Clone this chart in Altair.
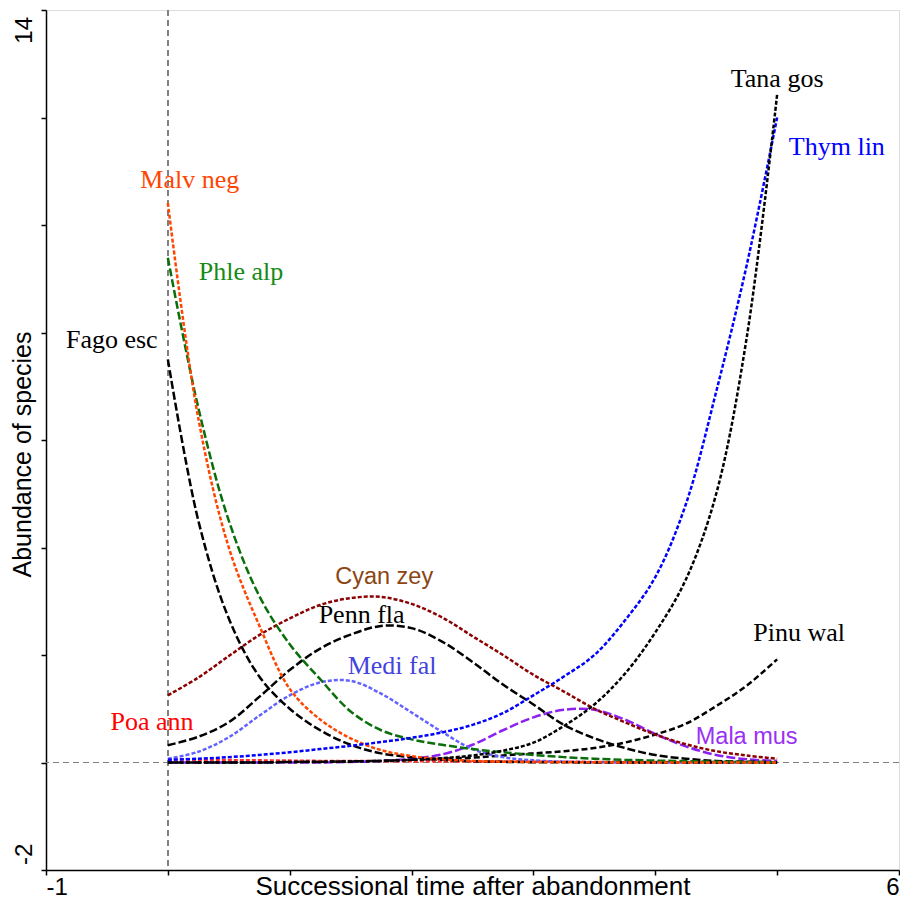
import altair as alt
import pandas as pd

# ---------------- data ----------------
xs = [0.0, 0.25, 0.5, 0.75, 1.0, 1.25, 1.5, 1.75, 2.0, 2.25, 2.5,
      2.75, 3.0, 3.25, 3.5, 3.75, 4.0, 4.25, 4.5, 4.75, 5.0]

malv_neg = [10.41, 6.4, 4.0, 2.55, 1.37, 0.8, 0.45, 0.23, 0.12, 0.06, 0.03,
            0.015, 0.01, 0.005, 0.003, 0.002, 0.001, 0.0, 0.0, 0.0, 0.0]
phle_alp = [9.39, 6.6, 4.5, 3.1, 2.2, 1.55, 0.95, 0.6, 0.43, 0.33, 0.25,
            0.19, 0.14, 0.1, 0.07, 0.05, 0.035, 0.025, 0.015, 0.01, 0.005]
fago_esc = [7.5, 4.5, 2.68, 1.6, 1.0, 0.6, 0.33, 0.17, 0.1, 0.05, 0.025,
            0.012, 0.006, 0.003, 0.001, 0.0, 0.0, 0.0, 0.0, 0.0, 0.0]
cyan_zey = [1.25, 1.58, 1.98, 2.37, 2.68, 2.93, 3.06, 3.08, 2.95, 2.7, 2.35,
            2.0, 1.63, 1.32, 1.0, 0.75, 0.52, 0.34, 0.21, 0.13, 0.07]
penn_fla = [0.32, 0.48, 0.75, 1.22, 1.72, 2.12, 2.38, 2.54, 2.5, 2.25, 1.87,
            1.45, 1.08, 0.7, 0.45, 0.27, 0.14, 0.07, 0.03, 0.015, 0.005]
medi_fal = [0.07, 0.2, 0.47, 0.87, 1.25, 1.49, 1.52, 1.28, 0.93, 0.57, 0.25,
            0.1, 0.04, 0.015, 0.005, 0.0, 0.0, 0.0, 0.0, 0.0, 0.0]
thym_lin = [0.05, 0.07, 0.1, 0.14, 0.19, 0.25, 0.31, 0.38, 0.46, 0.56, 0.7,
            0.92, 1.25, 1.6, 2.0, 2.64, 3.45, 4.8, 6.9, 9.25, 12.0]
tana_gos = [0.0, 0.0, 0.0, 0.0, 0.01, 0.01, 0.02, 0.03, 0.05, 0.08, 0.13,
            0.22, 0.37, 0.68, 1.08, 1.65, 2.42, 3.4, 5.0, 7.9, 12.43]
pinu_wal = [0.0, 0.0, 0.0, 0.0, 0.01, 0.015, 0.02, 0.03, 0.05, 0.07, 0.09,
            0.13, 0.17, 0.21, 0.27, 0.37, 0.52, 0.72, 1.05, 1.43, 1.92]
mala_mus = [0.0, 0.0, 0.0, 0.0, 0.0, 0.0, 0.01, 0.03, 0.07, 0.15, 0.33,
            0.6, 0.84, 0.98, 0.98, 0.8, 0.53, 0.3, 0.14, 0.06, 0.03]
poa_ann = [0.06, 0.05, 0.045, 0.04, 0.035, 0.03, 0.03, 0.025, 0.025, 0.02, 0.02,
           0.02, 0.015, 0.015, 0.01, 0.01, 0.01, 0.005, 0.005, 0.005, 0.0]

species_names = ["Poa ann", "Mala mus", "Pinu wal", "Medi fal", "Cyan zey",
                 "Penn fla", "Fago esc", "Phle alp", "Malv neg", "Thym lin", "Tana gos"]
species_series = [poa_ann, mala_mus, pinu_wal, medi_fal, cyan_zey,
                  penn_fla, fago_esc, phle_alp, malv_neg, thym_lin, tana_gos]

label_names = ["Tana gos", "Thym lin", "Malv neg", "Phle alp", "Fago esc", "Cyan zey",
               "Penn fla", "Medi fal", "Poa ann", "Mala mus", "Pinu wal"]
label_x = [5.0, 5.49, 0.18, 0.60, -0.46, 1.775, 1.59, 1.84, -0.13, 4.75, 5.18]
label_y = [12.56, 11.3, 10.69, 8.97, 7.72, 3.32, 2.6, 1.65, 0.6, 0.35, 2.26]

x_ticks = [-1, 0, 1, 2, 3, 4, 5, 6]
y_ticks = [-2, 0, 2, 4, 6, 8, 10, 12, 14]
y_tick_labels = ["-2", "14"]
y_tick_label_values = [-2, 14]

# ---------------- styles ----------------
line_style = {
    "Malv neg": ("#FF4500", [4, 2]),
    "Phle alp": ("#0A6E0A", [8, 3]),
    "Fago esc": ("#000000", [8, 3]),
    "Cyan zey": ("#8B0000", [4, 2]),
    "Penn fla": ("#000000", [8, 3]),
    "Medi fal": ("#6262FF", [4, 2]),
    "Thym lin": ("#0000FF", [4, 2]),
    "Tana gos": ("#000000", [4, 2]),
    "Pinu wal": ("#000000", [6, 3]),
    "Mala mus": ("#8B22F0", [9, 3]),
    "Poa ann": ("#FF3030", [4, 2]),
}
SERIF = "Liberation Serif"
SANS = "Liberation Sans"
label_style = {
    "Tana gos": ("#000000", SERIF, 26),
    "Thym lin": ("#0000FF", SERIF, 26),
    "Malv neg": ("#FF4500", SERIF, 26),
    "Phle alp": ("#168A16", SERIF, 26),
    "Fago esc": ("#000000", SERIF, 26),
    "Cyan zey": ("#8B4513", SANS, 23.5),
    "Penn fla": ("#000000", SERIF, 26),
    "Medi fal": ("#4343DD", SERIF, 26),
    "Poa ann": ("#FF0000", SERIF, 26),
    "Mala mus": ("#9A30F5", SANS, 23.5),
    "Pinu wal": ("#000000", SERIF, 26),
}

# ---------------- tables ----------------
rows = []
for name, vals in zip(species_names, species_series):
    for xv, yv in zip(xs, vals):
        rows.append({"species": name, "x": xv, "y": yv})
df = pd.DataFrame(rows)
labels_df = pd.DataFrame({"species": label_names, "x": label_x, "y": label_y})
ylab_df = pd.DataFrame({"t": y_tick_labels, "v": y_tick_label_values})

x_scale = alt.Scale(domain=[-1, 6], nice=False, zero=False)
y_scale = alt.Scale(domain=[-2, 14], nice=False, zero=False)

x_axis = alt.Axis(
    values=x_ticks, grid=False,
    labelExpr="datum.value == -1 || datum.value == 6 ? toString(datum.value) : ''",
    labelFlush=True, labelOverlap=False, labelFont=SANS, labelFontSize=24,
    labelColor="black", labelPadding=0, tickSize=5, tickColor="black", tickWidth=1.5,
    domainColor="black", domainWidth=1.5,
    title="Successional time after abandonment", titleFont=SANS, titleFontSize=26,
    titleFontWeight="normal", titleColor="black", titleBaseline="alphabetic", titleY=24,
)
y_axis = alt.Axis(
    values=y_ticks, grid=False, labels=False, tickSize=5, tickColor="black", tickWidth=1.5,
    domainColor="black", domainWidth=1.5,
    title="Abundance of species", titleFont=SANS, titleFontSize=25,
    titleFontWeight="normal", titleColor="black", titleAngle=270, titleAlign="center",
    titleBaseline="alphabetic", titleX=-16, titleY=444,
)

X = alt.X("x:Q", scale=x_scale, axis=x_axis)
Y = alt.Y("y:Q", scale=y_scale, axis=y_axis)

base = alt.Chart(df)

layers = []
# reference dashed lines
layers.append(base.mark_rule(color="#808080", strokeDash=[6, 4], strokeWidth=1.2)
              .encode(x=alt.datum(0, scale=x_scale)))
layers.append(base.mark_rule(color="#808080", strokeDash=[6, 4], strokeWidth=1.2)
              .encode(y=alt.datum(0, scale=y_scale)))

for name in species_names:
    col, dash = line_style[name]
    layers.append(
        base.transform_filter(alt.datum.species == name)
        .mark_line(color=col, strokeDash=dash, strokeWidth=2.5, interpolate="catmull-rom")
        .encode(x=X, y=Y, order="x:Q")
    )

lab_base = alt.Chart(labels_df)
for name in label_names:
    col, font, size = label_style[name]
    layers.append(
        lab_base.transform_filter(alt.datum.species == name)
        .mark_text(color=col, font=font, fontSize=size, align="center", baseline="alphabetic")
        .encode(x=X, y=Y, text="species:N")
    )

ylab_base = alt.Chart(ylab_df)
layers.append(
    ylab_base.transform_filter(alt.datum.v == 14)
    .mark_text(font=SANS, fontSize=24, color="black", angle=270, align="right",
               baseline="alphabetic", dx=-7)
    .encode(x=alt.value(-14), y=alt.Y("v:Q", scale=y_scale, axis=y_axis), text="t:N")
)
layers.append(
    ylab_base.transform_filter(alt.datum.v == -2)
    .mark_text(font=SANS, fontSize=24, color="black", angle=270, align="left",
               baseline="alphabetic", dx=5)
    .encode(x=alt.value(-14), y=alt.Y("v:Q", scale=y_scale, axis=y_axis), text="t:N")
)

chart = alt.layer(*layers).properties(
    width=853, height=860,
    autosize=alt.AutoSizeParams(type="none"),
    padding={"left": 38, "top": 2, "right": 1, "bottom": 30},
).configure_view(stroke="black", strokeWidth=1.5).configure(background="white")

chart.save("out.html", embed_options={"renderer": "svg", "actions": False})
